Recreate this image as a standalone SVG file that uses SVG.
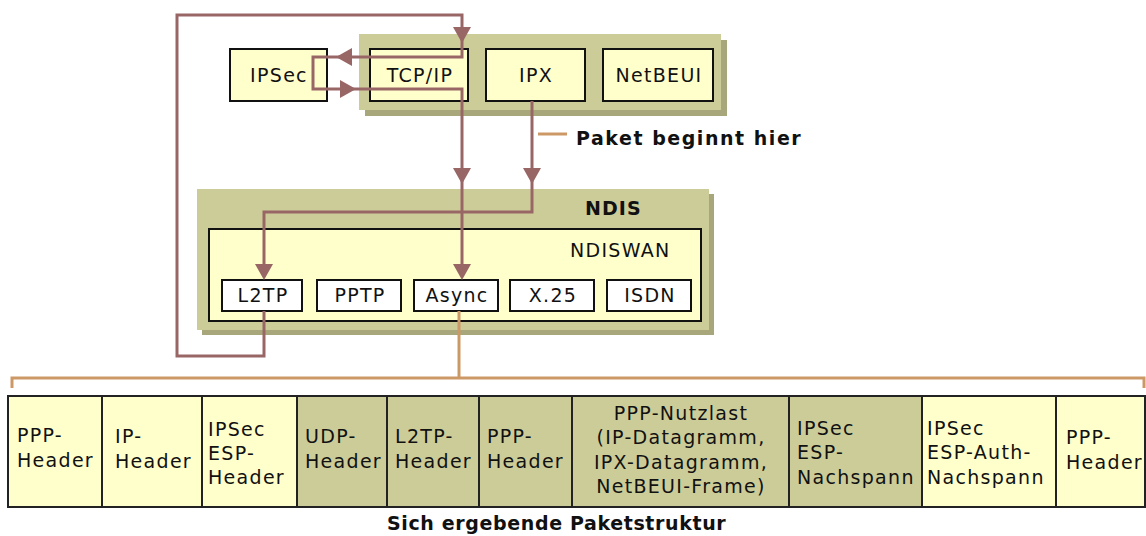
<svg xmlns="http://www.w3.org/2000/svg" xmlns:xlink="http://www.w3.org/1999/xlink" width="1146" height="536" viewBox="0 0 1146 536">
<style>
text{font-family:"DejaVu Sans","Verdana",sans-serif;font-size:19px;letter-spacing:1.3px;fill:#111}
.b{font-weight:bold;font-size:19px}
.mid{text-anchor:middle}
.cont{fill:#CCCC99}
.shadow{fill:#A8A77C}
.yel{fill:#FFFFCC;stroke:#111;stroke-width:2}
.wht{fill:#FFFFFF;stroke:#111;stroke-width:2}
.pk{stroke:#222;stroke-width:2}
.py{fill:#FFFFCC}
.po{fill:#CCCC99}
.arr{fill:none;stroke:#996666;stroke-width:3}
.org{fill:none;stroke:#CC9966;stroke-width:3}
.ah{fill:#996666}
</style>
<defs>
<path id="ah" d="M0,0 L-16,-9 L-16,9 Z"/>
</defs>
<rect width="1146" height="536" fill="#FFFFFF"/>

<g id="protocols">
<rect class="shadow" x="365" y="40" width="362" height="76"/>
<rect class="cont" x="359" y="34" width="362" height="76"/>
</g>
<g id="ipsec"><rect class="yel" x="230" y="49" width="97" height="52"/><text class="mid" x="279" y="82">IPSec</text></g>
<g id="tcpip"><rect class="yel" x="370" y="49" width="98" height="52"/><text class="mid" x="420" y="82">TCP/IP</text></g>
<g id="ipx"><rect class="yel" x="486" y="49" width="99" height="52"/><text class="mid" x="536" y="82">IPX</text></g>
<g id="netbeui"><rect class="yel" x="603" y="49" width="110" height="52"/><text class="mid" x="659" y="82">NetBEUI</text></g>

<g id="ndis">
<rect class="shadow" x="202" y="194" width="512" height="141"/>
<rect class="cont" x="197" y="189" width="512" height="141"/>
<text class="b" x="585" y="215" font-size="18" textLength="57" lengthAdjust="spacing">NDIS</text>
</g>
<g id="ndiswan">
<rect class="yel" x="209" y="229" width="492" height="92"/>
<text x="570" y="257">NDISWAN</text>
</g>
<g id="l2tp"><rect class="wht" x="222" y="280" width="80" height="31"/><text class="mid" x="263" y="302">L2TP</text></g>
<g id="pptp"><rect class="wht" x="317" y="280" width="84" height="31"/><text class="mid" x="360" y="302">PPTP</text></g>
<g id="async"><rect class="wht" x="414" y="280" width="84" height="31"/><text class="mid" x="457" y="302">Async</text></g>
<g id="x25"><rect class="wht" x="510" y="280" width="84" height="31"/><text class="mid" x="553" y="302">X.25</text></g>
<g id="isdn"><rect class="wht" x="607" y="280" width="84" height="31"/><text class="mid" x="650" y="302">ISDN</text></g>

<g id="connectors">
<path class="arr" d="M264,311 V356 H177 V15 H462 V57 H313 V89 H462 V272"/>
<path class="arr" d="M532,101 V212 H264 V272"/>
<use href="#ah" class="ah" transform="translate(462,43) rotate(90)"/>
<use href="#ah" class="ah" transform="translate(336,57) rotate(180)"/>
<use href="#ah" class="ah" transform="translate(356,89)"/>
<use href="#ah" class="ah" transform="translate(462,184) rotate(90)"/>
<use href="#ah" class="ah" transform="translate(532,184) rotate(90)"/>
<use href="#ah" class="ah" transform="translate(462,280) rotate(90)"/>
<use href="#ah" class="ah" transform="translate(264,280) rotate(90)"/>
<path class="org" d="M459,311 V378"/>
<path class="org" d="M12,388 V378 H1144 V388"/>
<path class="org" d="M538,134 H567"/>
</g>

<g id="label-start"><text class="b" x="576" y="145" textLength="226" lengthAdjust="spacing">Paket beginnt hier</text></g>

<g id="packet">
<rect class="pk py" x="8" y="396" width="94" height="111"/>
<rect class="pk py" x="102" y="396" width="100" height="111"/>
<rect class="pk py" x="202" y="396" width="95" height="111"/>
<rect class="pk po" x="297" y="396" width="90" height="111"/>
<rect class="pk po" x="387" y="396" width="92" height="111"/>
<rect class="pk po" x="479" y="396" width="93" height="111"/>
<rect class="pk po" x="572" y="396" width="217" height="111"/>
<rect class="pk po" x="789" y="396" width="133" height="111"/>
<rect class="pk py" x="922" y="396" width="134" height="111"/>
<rect class="pk py" x="1056" y="396" width="89" height="111"/>
<text x="17" y="442">PPP-</text><text x="17" y="467">Header</text>
<text x="115" y="443">IP-</text><text x="115" y="468">Header</text>
<text x="208" y="436">IPSec</text><text x="208" y="460">ESP-</text><text x="208" y="484">Header</text>
<text x="305" y="443">UDP-</text><text x="305" y="468">Header</text>
<text x="395" y="443">L2TP-</text><text x="395" y="468">Header</text>
<text x="487" y="443">PPP-</text><text x="487" y="468">Header</text>
<text class="mid" x="681" y="420">PPP-Nutzlast</text>
<text class="mid" x="681" y="444">(IP-Datagramm,</text>
<text class="mid" x="681" y="469">IPX-Datagramm,</text>
<text class="mid" x="681" y="493">NetBEUI-Frame)</text>
<text x="797" y="435">IPSec</text><text x="797" y="459">ESP-</text><text x="797" y="484">Nachspann</text>
<text x="927" y="435">IPSec</text><text x="927" y="459">ESP-Auth-</text><text x="927" y="484">Nachspann</text>
<text x="1066" y="444">PPP-</text><text x="1066" y="469">Header</text>
</g>

<g id="label-result"><text class="b" x="387" y="530" font-size="18" textLength="340" lengthAdjust="spacing">Sich ergebende Paketstruktur</text></g>
</svg>
